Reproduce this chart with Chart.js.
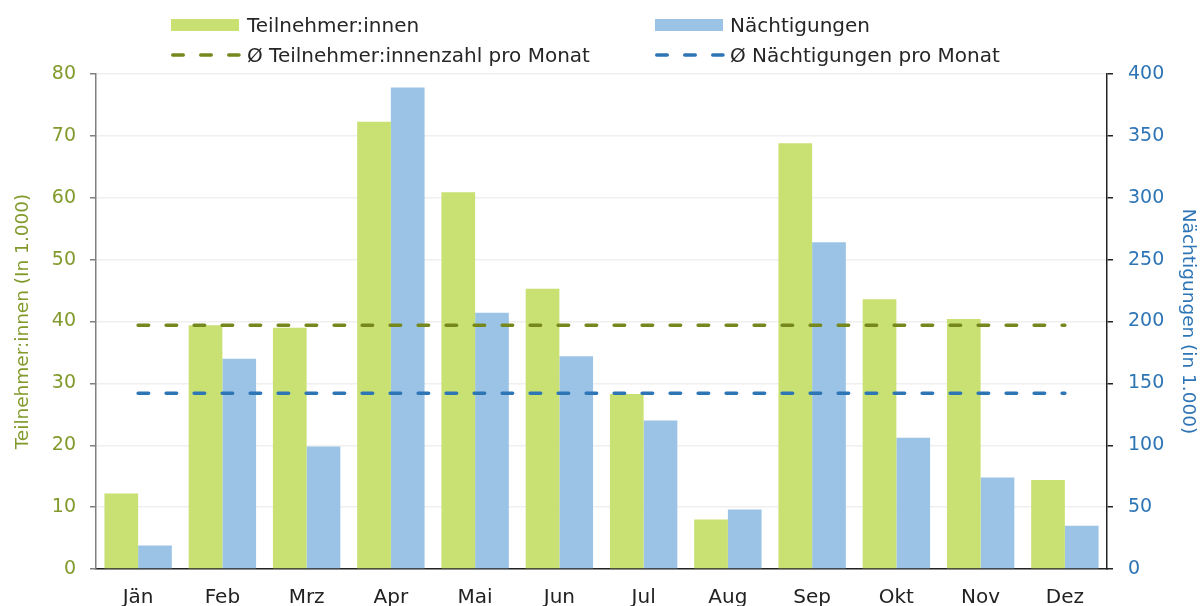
<!DOCTYPE html>
<html>
<head>
<meta charset="utf-8">
<script src="https://cdn.jsdelivr.net/npm/chart.js@4.4.1/dist/chart.umd.min.js"></script>
<style>
  html, body { margin: 0; padding: 0; background: #ffffff; }
  #wrap { position: relative; width: 1203px; height: 606px; overflow: hidden; font-family: "DejaVu Sans", sans-serif; }
  #c { position: absolute; left: 0; top: 0; }
  .lg { position: absolute; font-size: 20px; line-height: 20px; color: #262626; white-space: nowrap; }
  .box { position: absolute; width: 68px; height: 12px; }
  svg.dash { position: absolute; left: 0; top: 0; }
</style>
</head>
<body>
<div id="wrap">
  <canvas id="c" width="1203" height="606"></canvas>
  <div class="box" style="left:171px;top:19px;background:#C9E073"></div>
  <div class="lg" style="left:247px;top:15px">Teilnehmer:innen</div>
  <div class="box" style="left:655px;top:19px;background:#9BC3E6"></div>
  <div class="lg" style="left:730px;top:15px">Nächtigungen</div>
  <svg class="dash" width="1203" height="80">
    <line x1="172.75" y1="55" x2="239" y2="55" stroke="#76881D" stroke-width="3.5" stroke-linecap="round" stroke-dasharray="10.5 17.5"/>
    <line x1="656.75" y1="55" x2="723" y2="55" stroke="#2E75B6" stroke-width="3.5" stroke-linecap="round" stroke-dasharray="10.5 17.5"/>
  </svg>
  <div class="lg" style="left:247px;top:45px">Ø Teilnehmer:innenzahl pro Monat</div>
  <div class="lg" style="left:730px;top:45px">Ø Nächtigungen pro Monat</div>
</div>
<script>
const months = ["Jän", "Feb", "Mrz", "Apr", "Mai", "Jun", "Jul", "Aug", "Sep", "Okt", "Nov", "Dez"];
const teilnehmer = [12.2, 39.4, 39.0, 72.3, 60.9, 45.3, 28.3, 8.0, 68.8, 43.6, 40.4, 14.4];
const naechtigungen = [19, 170, 99, 389, 207, 172, 120, 48, 264, 106, 74, 35];
const avgTeilnehmer = [39.4, 39.4, 39.4, 39.4, 39.4, 39.4, 39.4, 39.4, 39.4, 39.4, 39.4, 39.4];
const avgNaechtigungen = [142, 142, 142, 142, 142, 142, 142, 142, 142, 142, 142, 142];
const leftTicks = [0, 10, 20, 30, 40, 50, 60, 70, 80];
const rightTicks = [0, 50, 100, 150, 200, 250, 300, 350, 400];

const FONT = "'DejaVu Sans', sans-serif";
const OLIVE = "#819A2B";
const BLUE = "#2E75B6";

new Chart(document.getElementById('c'), {
  data: {
    labels: months,
    datasets: [
      { type: 'line', label: 'Ø Teilnehmer:innenzahl pro Monat', data: avgTeilnehmer, yAxisID: 'y',
        borderColor: '#76881D', borderWidth: 3.5, borderDash: [10.5, 17.5], borderCapStyle: 'round',
        pointRadius: 0, fill: false, order: 0 },
      { type: 'line', label: 'Ø Nächtigungen pro Monat', data: avgNaechtigungen, yAxisID: 'y2',
        borderColor: '#2E75B6', borderWidth: 3.5, borderDash: [10.5, 17.5], borderCapStyle: 'round',
        pointRadius: 0, fill: false, order: 0 },
      { type: 'bar', label: 'Teilnehmer:innen', data: teilnehmer, yAxisID: 'y',
        backgroundColor: '#C9E073', categoryPercentage: 0.8, barPercentage: 1.0, order: 1 },
      { type: 'bar', label: 'Nächtigungen', data: naechtigungen, yAxisID: 'y2',
        backgroundColor: '#9BC3E6', categoryPercentage: 0.8, barPercentage: 1.0, order: 1 }
    ]
  },
  options: {
    responsive: false,
    animation: false,
    layout: { padding: { top: 74, left: 0, right: 0, bottom: 0 } },
    plugins: { legend: { display: false }, tooltip: { enabled: false } },
    scales: {
      x: {
        offset: true,
        grid: { display: true, drawOnChartArea: false, drawTicks: false },
        border: { display: true, color: '#222222', width: 1.5 },
        ticks: { color: '#222222', font: { family: FONT, size: 20 }, padding: 17, maxRotation: 0 },
        afterFit: s => { s.height = 37; }
      },
      y: {
        position: 'left', min: 0, max: 80,
        afterBuildTicks: s => { s.ticks = leftTicks.map(v => ({ value: v })); },
        grid: { color: '#EFEFEF', lineWidth: 1.5, tickLength: 6, tickColor: '#808080' },
        border: { display: true, color: '#808080', width: 1.5 },
        ticks: { color: OLIVE, font: { family: FONT, size: 19 }, padding: 14 },
        title: { display: true, text: 'Teilnehmer:innen (In 1.000)', color: OLIVE,
                 font: { family: FONT, size: 18.5 }, padding: { top: 12, bottom: 0 } },
        afterFit: s => { s.width = 96; }
      },
      y2: {
        position: 'right', min: 0, max: 400,
        afterBuildTicks: s => { s.ticks = rightTicks.map(v => ({ value: v })); },
        grid: { drawOnChartArea: false, tickLength: 6, tickColor: '#222222', lineWidth: 1.5 },
        border: { display: true, color: '#222222', width: 1.5 },
        ticks: { color: BLUE, font: { family: FONT, size: 19 }, padding: 15 },
        title: { display: true, text: 'Nächtigungen (in 1.000)', color: BLUE,
                 font: { family: FONT, size: 18.5 }, padding: { top: 4, bottom: 0 } },
        afterFit: s => { s.width = 96; }
      }
    }
  }
});
</script>
</body>
</html>
